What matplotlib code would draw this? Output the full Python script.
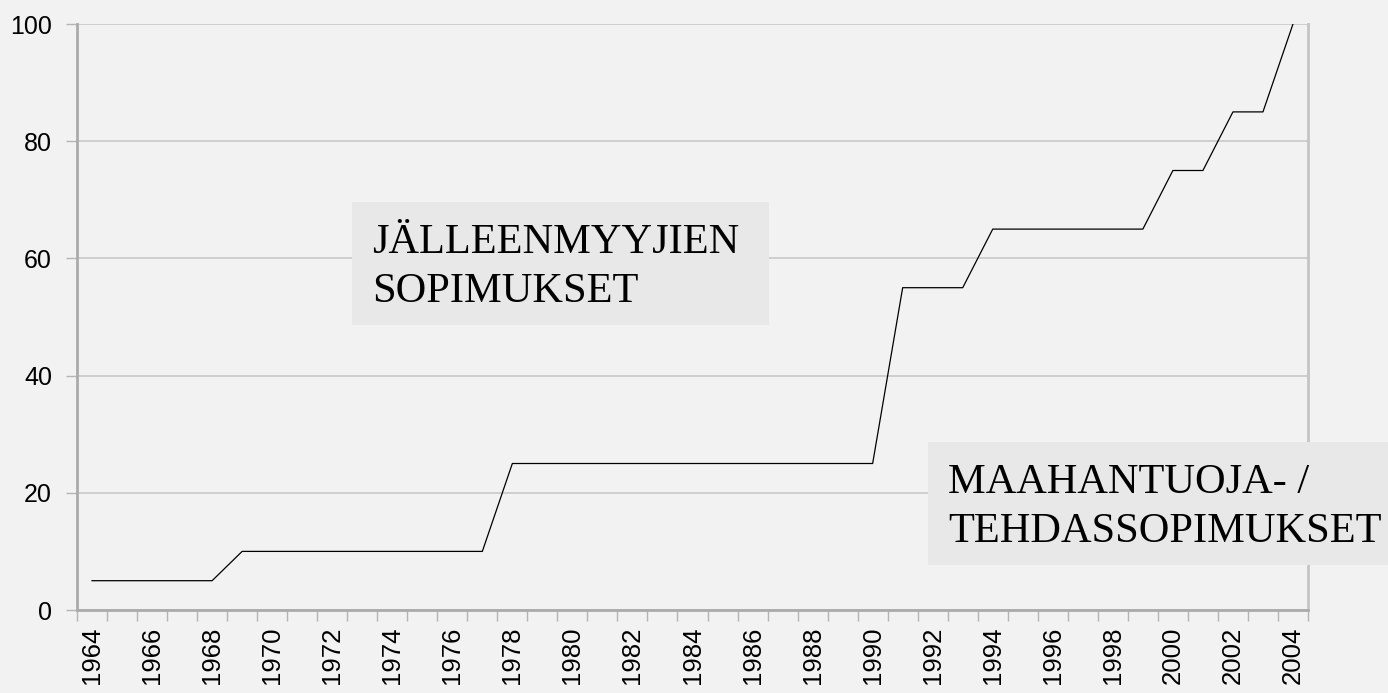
import matplotlib.pyplot as plt
from matplotlib.patches import Rectangle

years = list(range(1964, 2005))
share = [5] * 5 + [10] * 9 + [25] * 13 + [55] * 3 + [65] * 6 + [75] * 2 + [85] * 2 + [100]
label_years = [str(y) for y in range(1964, 2005, 2)]
y_ticks = [0, 20, 40, 60, 80, 100]

bg = '#f2f2f2'
fig = plt.figure(figsize=(13.88, 6.93), dpi=100, facecolor=bg)
ax = fig.add_axes([77 / 1388, 1 - 610 / 693, 1231 / 1388, 586 / 693])
ax.set_facecolor(bg)

x = list(range(len(years)))
ax.plot(x, share, color='black', lw=0.9, zorder=3)

ax.set_xlim(-0.5, len(years) - 0.5)
ax.set_ylim(0, 100)

# boundary ticks between categories, labels on every second year
ax.set_xticks([i - 0.5 for i in range(len(years) + 1)])
ax.set_xticklabels([])
ax.set_xticks(list(range(0, len(years), 2)), minor=True)
ax.set_xticklabels(label_years, minor=True, rotation=90, fontsize=18.5,
                   fontfamily='Liberation Sans')
ax.tick_params(axis='x', which='major', length=8, width=1, color='#b4b4b4', direction='out')
ax.tick_params(axis='x', which='minor', length=0, pad=12)

ax.set_yticks(y_ticks)
ax.set_yticklabels([str(v) for v in y_ticks], fontsize=18, fontfamily='Liberation Sans')
ax.tick_params(axis='y', length=8, width=1, color='#b4b4b4', pad=10)

ax.grid(axis='y', color='#c8c8c8', lw=1.2)
ax.set_axisbelow(True)
ax.spines['top'].set_visible(False)
for s in ['left', 'bottom']:
    ax.spines[s].set_color('#ababab')
    ax.spines[s].set_linewidth(2)
ax.spines['right'].set_color('#c4c4c4')
ax.spines['right'].set_linewidth(2)

# text boxes
W, H = 1388, 693
fig.patches.append(Rectangle((352 / W, 1 - 325 / H), 417 / W, 123 / H,
                             transform=fig.transFigure, facecolor='#e8e8e8',
                             edgecolor='none', zorder=5))
fig.text(372 / W, 1 - 267 / H, 'JÄLLEENMYYJIEN\nSOPIMUKSET', fontsize=30.5,
         fontfamily='Liberation Serif', va='center', ha='left', zorder=6,
         linespacing=1.35)

fig.patches.append(Rectangle((928 / W, 1 - 565 / H), 460 / W, 123 / H,
                             transform=fig.transFigure, facecolor='#e8e8e8',
                             edgecolor='none', zorder=5))
fig.text(948 / W, 1 - 507 / H, 'MAAHANTUOJA- /\nTEHDASSOPIMUKSET', fontsize=30.5,
         fontfamily='Liberation Serif', va='center', ha='left', zorder=6,
         linespacing=1.35)

fig.savefig('out.png', dpi=100, facecolor=bg)
